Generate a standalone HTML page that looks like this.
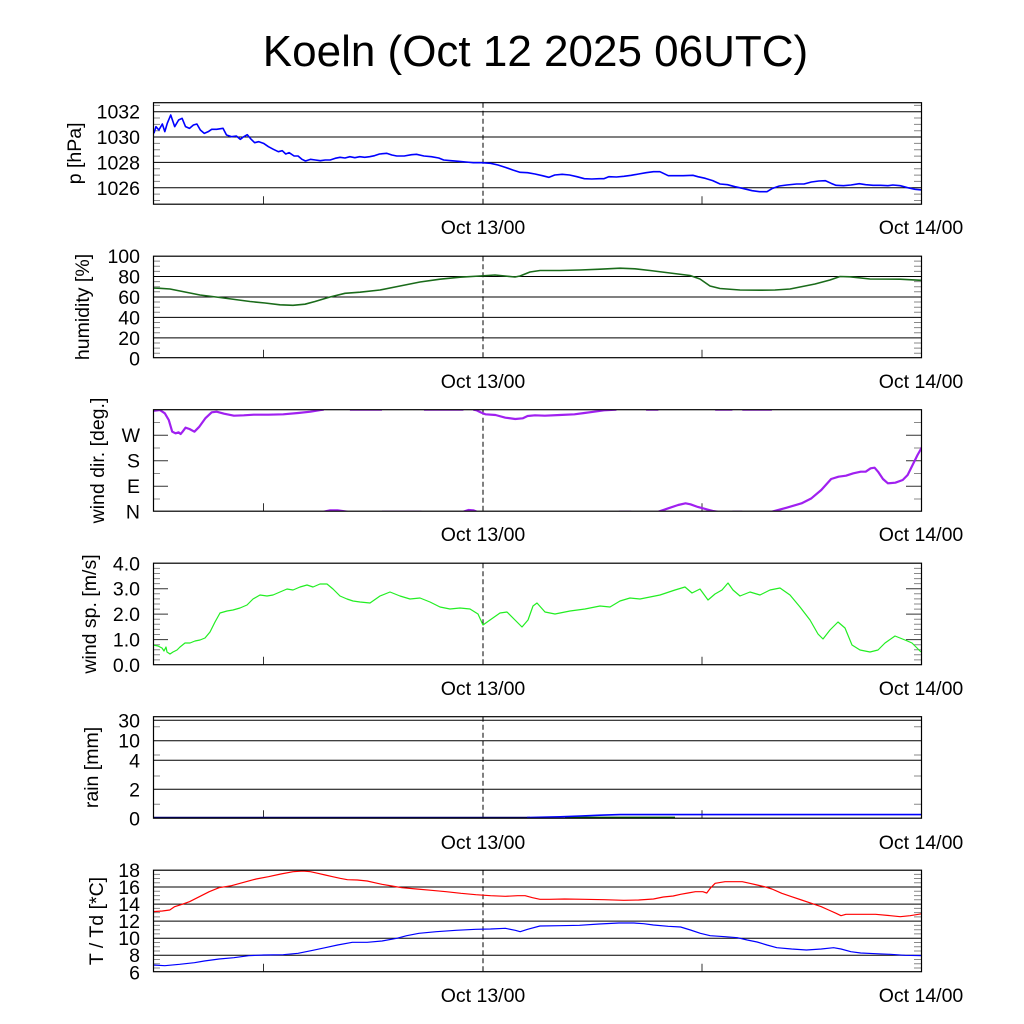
<!DOCTYPE html>
<html><head><meta charset="utf-8"><style>
html,body{margin:0;padding:0;background:#fff;}
svg{display:block;}
text{font-family:"Liberation Sans",Arial,sans-serif;fill:#000;}
.tl{font-size:19.5px;text-anchor:end;}
.xl{font-size:19.5px;text-anchor:middle;}
.yl{font-size:19.5px;text-anchor:middle;}
.grid{stroke:#000;stroke-width:1;fill:none;}
.mt{stroke:#888;stroke-width:1;fill:none;}
.Mt{stroke:#333;stroke-width:1;fill:none;}
.frame{stroke:#000;stroke-width:1.2;fill:none;}
.dash{stroke:#000;stroke-width:1;stroke-dasharray:5,3;fill:none;}
.ns{vector-effect:non-scaling-stroke;fill:none;stroke-linejoin:round;}
</style></head><body>
<svg width="1024" height="1024" viewBox="0 0 1024 1024" xmlns="http://www.w3.org/2000/svg">
<defs>
<clipPath id="c1"><rect x="153" y="102.7" width="768.5" height="101.5"/></clipPath>
<clipPath id="c2"><rect x="153" y="256.2" width="768.5" height="101.5"/></clipPath>
<clipPath id="c3"><rect x="153" y="409.7" width="768.5" height="101.5"/></clipPath>
<clipPath id="c4"><rect x="153" y="563.2" width="768.5" height="101.5"/></clipPath>
<clipPath id="c5"><rect x="153" y="716.7" width="768.5" height="101.5"/></clipPath>
<clipPath id="c6"><rect x="153" y="870.2" width="768.5" height="101.5"/></clipPath>
</defs>

<text x="535.5" y="66" style="font-size:44px;text-anchor:middle;">Koeln (Oct 12 2025 06UTC)</text>

<!-- ===== Panel 1: pressure ===== -->
<path class="grid" d="M153,111.7H921M153,137H921M153,162.4H921M153,187.8H921"/>
<path class="mt" d="M153,105.4h7M153,118h7M153,124.4h7M153,130.7h7M153,143.4h7M153,149.7h7M153,156.1h7M153,168.7h7M153,175.1h7M153,181.4h7M153,194.1h7M153,200.5h7
M921,105.4h-7M921,118h-7M921,124.4h-7M921,130.7h-7M921,143.4h-7M921,149.7h-7M921,156.1h-7M921,168.7h-7M921,175.1h-7M921,181.4h-7M921,194.1h-7M921,200.5h-7"/>
<path class="Mt" d="M263.5,204.2v-8M702,204.2v-8"/>
<line class="dash" x1="483" y1="102.7" x2="483" y2="204.2"/>
<g clip-path="url(#c1)"><g transform="translate(150,100) scale(0.49358,0.33333)">
<polyline class="ns" stroke="#0000ff" stroke-width="1.6" points="8,100 12,80 18,90 25,72 30,95 35,70 42,45 50,80 58,60 65,55 72,80 80,85 88,75 95,72 102,90 110,100 118,95 125,88 135,88 148,85 155,105 165,110 175,108 183,118 190,110 197,104 205,118 212,128 220,125 230,130 240,140 250,148 260,155 268,152 275,162 282,158 292,168 300,168 308,178 315,183 325,178 335,180 345,182 355,180 365,180 375,175 385,172 395,174 405,170 415,173 425,170 435,172 445,170 455,167 465,162 480,160 490,165 500,168 515,168 530,164 540,163 555,168 570,170 585,174 595,180 610,182 625,184 640,186 655,188 672,188 690,190 705,195 720,202 735,210 750,217 765,218 780,222 795,227 808,232 820,225 835,223 850,225 865,230 880,236 895,237 910,236 920,236 930,230 945,231 960,229 975,226 990,222 1005,218 1020,215 1033,215 1040,220 1050,227 1065,227 1080,227 1100,226 1110,230 1125,235 1140,242 1155,252 1170,254 1185,260 1200,265 1220,272 1235,275 1250,275 1260,266 1275,258 1290,255 1310,252 1325,252 1340,246 1355,243 1368,242 1380,250 1390,256 1405,257 1420,255 1437,251 1450,254 1465,256 1480,256 1495,257 1505,255 1520,257 1535,263 1550,268 1565,270"/>
</g></g>
<rect class="frame" x="153.5" y="102.7" width="768" height="101.5"/>
<text class="tl" x="140" y="118.7">1032</text>
<text class="tl" x="140" y="144">1030</text>
<text class="tl" x="140" y="169.4">1028</text>
<text class="tl" x="140" y="194.8">1026</text>
<text class="yl" transform="translate(81,153.4) rotate(-90)">p [hPa]</text>
<text class="xl" x="483" y="234">Oct 13/00</text>
<text class="xl" x="921" y="234">Oct 14/00</text>

<!-- ===== Panel 2: humidity ===== -->
<path class="grid" d="M153,276.5H921M153,297H921M153,317.4H921M153,337.9H921"/>
<path class="mt" d="M153,261.1h7M153,266.2h7M153,271.4h7M153,281.6h7M153,286.7h7M153,291.8h7M153,302h7M153,307.2h7M153,312.3h7M153,322.5h7M153,327.6h7M153,332.7h7M153,343h7M153,348.1h7M153,353.2h7
M921,261.1h-7M921,266.2h-7M921,271.4h-7M921,281.6h-7M921,286.7h-7M921,291.8h-7M921,302h-7M921,307.2h-7M921,312.3h-7M921,322.5h-7M921,327.6h-7M921,332.7h-7M921,343h-7M921,348.1h-7M921,353.2h-7"/>
<path class="Mt" d="M263.5,357.7v-8M702,357.7v-8"/>
<line class="dash" x1="483" y1="256.2" x2="483" y2="357.7"/>
<g clip-path="url(#c2)">
<polyline class="ns" stroke="#1a6b1a" stroke-width="1.6" points="153,288 160,288.3 170,289 185,292 200,295 220,297.5 235,299.5 250,301.5 265,303 280,304.8 293,305.3 305,304.2 315,301.5 330,297 345,293.3 360,292.2 380,290 400,286 420,282 440,279.2 460,277.2 480,276 495,275 505,276 515,277 520,276 530,272 540,270.5 560,270.5 580,270 600,269.2 620,268.2 635,268.8 650,270.5 670,273 690,275.5 700,279 710,286 720,288.5 740,290 760,290.2 775,290 790,289 800,287 815,284 830,280 840,276.5 850,276.8 870,279 900,279.2 921,280.3"/>
</g>
<rect class="frame" x="153.5" y="256.2" width="768" height="101.5"/>
<text class="tl" x="140" y="263">100</text>
<text class="tl" x="140" y="283.5">80</text>
<text class="tl" x="140" y="304">60</text>
<text class="tl" x="140" y="324.4">40</text>
<text class="tl" x="140" y="344.9">20</text>
<text class="tl" x="140" y="365.3">0</text>
<text class="yl" transform="translate(89,307) rotate(-90)">humidity [%]</text>
<text class="xl" x="483" y="388">Oct 13/00</text>
<text class="xl" x="921" y="388">Oct 14/00</text>

<!-- ===== Panel 3: wind dir ===== -->
<path class="Mt" d="M153,435.2h15M153,460.7h15M153,486.2h15M921,435.2h-15M921,460.7h-15M921,486.2h-15"/>
<path class="mt" d="M153,422.5h7M153,448h7M153,473.5h7M153,499h7M921,422.5h-7M921,448h-7M921,473.5h-7M921,499h-7"/>
<path class="Mt" d="M263.5,511.2v-8M702,511.2v-8"/>
<line class="dash" x1="483" y1="409.7" x2="483" y2="511.2"/>
<g clip-path="url(#c3)"><g transform="translate(150,405) scale(0.49358,0.33333)">
<g class="ns" stroke="#a020f0" stroke-width="2.2">
<polyline class="ns" points="5,18 20,15 30,25 38,45 45,80 52,85 58,82 62,87 66,80 72,68 80,72 90,80 100,65 112,40 125,22 135,20 150,26 170,32 190,31 210,29 240,29 270,28 300,24 325,20 345,15 352,14"/>
<polyline class="ns" points="405,14 470,14"/>
<polyline class="ns" points="555,14 635,14"/>
<polyline class="ns" points="655,14 662,16 670,22 680,28 700,30 720,38 740,42 755,40 765,33 780,31 800,32 830,30 860,28 880,24 900,20 920,16 945,14"/>
<polyline class="ns" points="1005,14 1030,14"/>
<polyline class="ns" points="1145,14 1180,14"/>
<polyline class="ns" points="1200,14 1260,14"/>
<polyline class="ns" points="352,320 365,316 380,316 400,320"/>
<polyline class="ns" points="470,320 550,320"/>
<polyline class="ns" points="635,320 645,315 655,316 662,320"/>
<polyline class="ns" points="950,320 975,320"/>
<polyline class="ns" points="1030,320 1050,310 1070,300 1085,295 1095,298 1110,306 1125,312 1140,318 1150,320"/>
<polyline class="ns" points="1180,320 1200,320"/>
<polyline class="ns" points="1260,320 1290,308 1320,295 1340,280 1360,255 1380,222 1395,215 1410,212 1425,205 1440,200 1450,200 1460,190 1468,188 1475,200 1485,222 1495,235 1510,233 1525,225 1535,210 1545,180 1555,150 1565,124"/>
</g></g></g>
<rect class="frame" x="153.5" y="409.7" width="768" height="101.5"/>
<text class="tl" x="140" y="442.2">W</text>
<text class="tl" x="140" y="467.7">S</text>
<text class="tl" x="140" y="493.2">E</text>
<text class="tl" x="140" y="518.7">N</text>
<text class="yl" transform="translate(104,460.5) rotate(-90)">wind dir. [deg.]</text>
<text class="xl" x="483" y="541">Oct 13/00</text>
<text class="xl" x="921" y="541">Oct 14/00</text>

<!-- ===== Panel 4: wind speed ===== -->
<path class="Mt" d="M153,588.7h15M153,614.1h15M153,639.6h15M921,588.7h-15M921,614.1h-15M921,639.6h-15"/>
<path class="mt" d="M153,568.4h7M153,573.5h7M153,578.6h7M153,583.6h7M153,593.8h7M153,598.9h7M153,604h7M153,609.1h7M153,619.2h7M153,624.3h7M153,629.4h7M153,634.5h7M153,644.7h7M153,649.7h7M153,654.8h7M153,659.9h7
M921,568.4h-7M921,573.5h-7M921,578.6h-7M921,583.6h-7M921,593.8h-7M921,598.9h-7M921,604h-7M921,609.1h-7M921,619.2h-7M921,624.3h-7M921,629.4h-7M921,634.5h-7M921,644.7h-7M921,649.7h-7M921,654.8h-7M921,659.9h-7"/>
<path class="Mt" d="M263.5,664.7v-8M702,664.7v-8"/>
<line class="dash" x1="483" y1="563.2" x2="483" y2="664.7"/>
<g clip-path="url(#c4)">
<polyline class="ns" stroke="#22ee22" stroke-width="1.2" points="153,645 158,646 162,648 164,651 166,647 167,652 170,654 173,652 177,650 180,647 185,643 190,643 195,641 200,640 205,638 210,632 215,622 220,613 227,611 233,610 240,608 247,605 253,599 260,595 267,596 273,595 280,592 287,589 293,590 300,587 307,585 313,587 320,584 327,584 333,589 340,596 347,599 353,601 360,602 370,603 380,596 390,592 400,596 410,599 420,598 430,602 440,607 450,609 460,608 470,609 478,614 483,625 490,620 500,613 507,612 515,620 522,627 528,620 533,606 537,603 545,612 555,614 570,611 585,609 600,606 610,607 620,601 630,598 640,599 660,595 675,590 685,587 692,593 700,589 708,600 715,594 722,590 728,583 733,590 740,596 750,592 760,595 770,590 780,588 790,595 800,607 810,620 818,634 823,639 830,630 838,622 845,628 852,645 860,650 870,652 878,650 885,643 895,636 905,640 912,643 921,652"/>
</g>
<rect class="frame" x="153.5" y="563.2" width="768" height="101.5"/>
<text class="tl" x="140" y="570.3">4.0</text>
<text class="tl" x="140" y="595.7">3.0</text>
<text class="tl" x="140" y="621.1">2.0</text>
<text class="tl" x="140" y="646.6">1.0</text>
<text class="tl" x="140" y="672">0.0</text>
<text class="yl" transform="translate(96,614) rotate(-90)">wind sp. [m/s]</text>
<text class="xl" x="483" y="695">Oct 13/00</text>
<text class="xl" x="921" y="695">Oct 14/00</text>

<!-- ===== Panel 5: rain ===== -->
<path class="grid" d="M153,720.3H921M153,740.7H921M153,760.3H921M153,789.3H921"/>
<path class="mt" d="M153,726.7h7M153,755h7M153,776h7M153,804.3h7M921,726.7h-7M921,755h-7M921,776h-7M921,804.3h-7"/>
<path class="Mt" d="M263.5,818.2v-8M702,818.2v-8"/>
<line class="dash" x1="483" y1="716.7" x2="483" y2="818.2"/>
<g clip-path="url(#c5)">
<polyline class="ns" stroke="#000080" stroke-width="1.6" points="153,817.6 530,817.6"/>
<polyline class="ns" stroke="#006400" stroke-width="1.6" points="565,817.4 675,817.4"/>
<polyline class="ns" stroke="#0000ff" stroke-width="1.6" points="527,817.6 560,816.8 580,816 600,815.2 620,814.6 700,814.6 921,814.6"/>
</g>
<rect class="frame" x="153.5" y="716.7" width="768" height="101.5"/>
<text class="tl" x="140" y="727.3">30</text>
<text class="tl" x="140" y="747.7">10</text>
<text class="tl" x="140" y="767.3">4</text>
<text class="tl" x="140" y="796.3">2</text>
<text class="tl" x="140" y="825.3">0</text>
<text class="yl" transform="translate(98,767.5) rotate(-90)">rain [mm]</text>
<text class="xl" x="483" y="849">Oct 13/00</text>
<text class="xl" x="921" y="849">Oct 14/00</text>

<!-- ===== Panel 6: T / Td ===== -->
<path class="grid" d="M153,887H921M153,904.1H921M153,921.1H921M153,938.2H921M153,955.2H921"/>
<path class="mt" d="M153,874.4h7M153,878.5h7M153,882.8h7M153,891.3h7M153,895.6h7M153,899.8h7M153,908.4h7M153,912.6h7M153,916.9h7M153,925.4h7M153,929.7h7M153,933.9h7M153,942.5h7M153,946.7h7M153,951h7M153,959.5h7M153,963.8h7M153,968h7
M921,874.4h-7M921,878.5h-7M921,882.8h-7M921,891.3h-7M921,895.6h-7M921,899.8h-7M921,908.4h-7M921,912.6h-7M921,916.9h-7M921,925.4h-7M921,929.7h-7M921,933.9h-7M921,942.5h-7M921,946.7h-7M921,951h-7M921,959.5h-7M921,963.8h-7M921,968h-7"/>
<path class="Mt" d="M263.5,971.7v-8M702,971.7v-8"/>
<line class="dash" x1="483" y1="870.2" x2="483" y2="971.7"/>
<g clip-path="url(#c6)"><g transform="translate(150,865) scale(0.49358,0.33333)">
<polyline class="ns" stroke="#ff0000" stroke-width="1.2" points="6,140 25,138 40,135 50,125 65,118 80,110 100,95 120,80 140,68 165,62 190,52 215,42 240,35 265,27 290,20 310,18 325,20 340,25 355,30 370,35 385,40 400,44 420,45 440,48 455,53 470,58 490,63 510,68 540,72 570,76 600,80 630,85 660,89 690,92 720,94 745,92 760,92 775,98 790,103 810,103 840,102 880,103 920,104 960,106 990,105 1020,102 1040,96 1060,93 1075,88 1090,84 1105,80 1120,80 1128,84 1135,70 1145,55 1165,50 1200,50 1215,55 1230,60 1245,65 1260,72 1280,85 1300,95 1320,105 1340,115 1360,125 1375,135 1390,145 1400,152 1410,148 1440,148 1470,148 1500,152 1520,155 1540,152 1565,146"/>
<polyline class="ns" stroke="#0000ff" stroke-width="1.2" points="6,300 30,302 60,298 90,293 110,288 140,282 170,278 200,272 230,270 270,269 300,265 330,256 355,248 380,240 410,232 440,232 470,228 500,220 520,212 545,205 580,200 620,196 660,193 690,192 720,190 740,196 750,200 765,193 790,183 830,182 870,181 910,177 950,174 980,174 1000,176 1020,180 1050,184 1075,186 1095,195 1115,205 1135,212 1165,215 1190,218 1210,225 1230,231 1250,240 1270,248 1300,252 1330,255 1360,252 1385,248 1400,252 1420,260 1440,264 1470,266 1500,268 1530,271 1565,272"/>
</g></g>
<rect class="frame" x="153.5" y="870.2" width="768" height="101.5"/>
<text class="tl" x="140" y="877.2">18</text>
<text class="tl" x="140" y="894">16</text>
<text class="tl" x="140" y="911.1">14</text>
<text class="tl" x="140" y="928.1">12</text>
<text class="tl" x="140" y="945.2">10</text>
<text class="tl" x="140" y="962.2">8</text>
<text class="tl" x="140" y="979.3">6</text>
<text class="yl" transform="translate(103,921) rotate(-90)">T / Td [*C]</text>
<text class="xl" x="483" y="1002">Oct 13/00</text>
<text class="xl" x="921" y="1002">Oct 14/00</text>
</svg>
</body></html>
